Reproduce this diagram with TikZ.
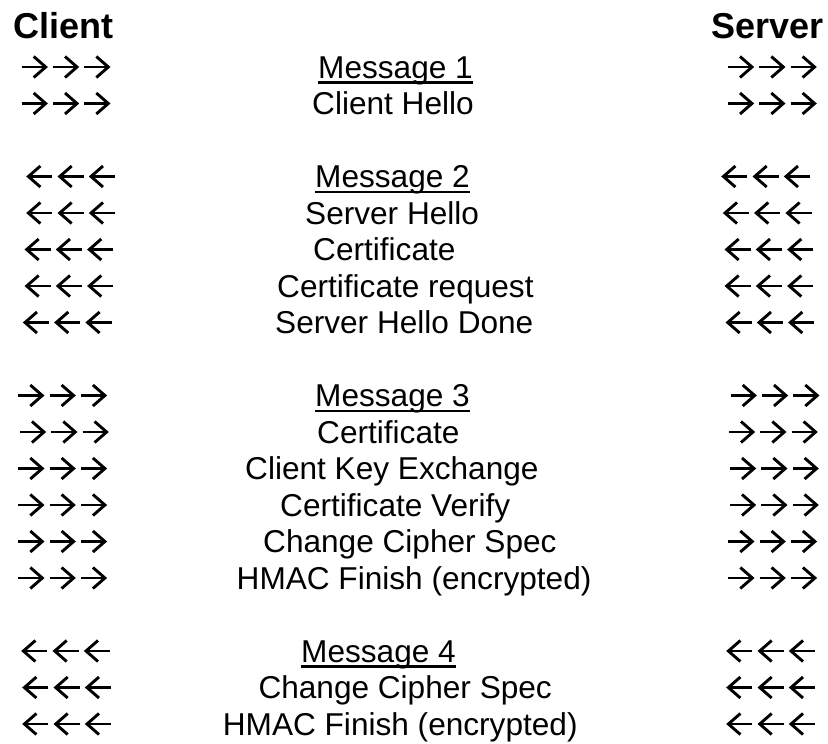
\documentclass[tikz,border=0pt]{standalone}
\usepackage{fontspec}
\setmainfont{Liberation Sans}
\begin{document}
\begin{tikzpicture}[x=1pt,y=-1pt,
  lbl/.style={anchor=base west, inner sep=0pt, font=\fontsize{31.6}{36}\selectfont},
  hdr/.style={anchor=base west, inner sep=0pt, font=\fontsize{36}{40}\selectfont\bfseries},
  uline/.style={line width=2.5pt},
  arrline/.style={line width=2.9pt, line join=miter, line cap=butt},
  onerarr/.pic={\draw[arrline] (0,-11) -- (23.5,-11);
                \draw[arrline] (12,-21.5) -- (24,-11) -- (12,-0.5);},
  onelarr/.pic={\draw[arrline] (25.7,-11) -- (2.2,-11);
                \draw[arrline] (13.7,-21.5) -- (1.7,-11) -- (13.7,-0.5);},
  rarrs/.pic={\pic at (0,0) {onerarr}; \pic at (31.3,0) {onerarr}; \pic at (62.6,0) {onerarr};},
  larrs/.pic={\pic at (0,0) {onelarr}; \pic at (31.3,0) {onelarr}; \pic at (62.6,0) {onelarr};}]
\useasboundingbox (0,0) rectangle (828,744);
% headers
\node[hdr] (client) at (13.3,38.5) {Client};
\node[hdr] (server) at (711.7,38.5) {Server};
% Message 1
\node[lbl] (m1)  at (318,78)    {Message 1};
\node[lbl] (ch)  at (312,114.5) {Client Hello};
\pic (l1)  at (21.7,78)    {rarrs};
\pic (r1)  at (728,78)     {rarrs};
\pic (l2)  at (21.7,114.5) {rarrs};
\pic (r2)  at (728,114.5)  {rarrs};
% Message 2
\node[lbl] (m2)  at (315,187.5) {Message 2};
\node[lbl] (sh)  at (305,224)   {Server Hello};
\node[lbl] (c2)  at (313,260.5) {Certificate};
\node[lbl] (cr)  at (277,297)   {Certificate request};
\node[lbl] (shd) at (275,333.5) {Server Hello Done};
\pic (l3)  at (26.7,187.5) {larrs};
\pic (l4)  at (26.7,224)   {larrs};
\pic (l5)  at (25,260.5)   {larrs};
\pic (l6)  at (25,297)     {larrs};
\pic (l7)  at (23.3,333.5) {larrs};
\pic (r3)  at (721.7,187.5){larrs};
\pic (r4)  at (723.3,224)  {larrs};
\pic (r5)  at (725,260.5)  {larrs};
\pic (r6)  at (725,297)    {larrs};
\pic (r7)  at (726,333.5)  {larrs};
% Message 3
\node[lbl] (m3)  at (315,406.5) {Message 3};
\node[lbl] (c3)  at (317,443)   {Certificate};
\node[lbl] (cke) at (245,479.5) {Client Key Exchange};
\node[lbl] (cv)  at (280,516)   {Certificate Verify};
\node[lbl] (ccs) at (263,552.5) {Change Cipher Spec};
\node[lbl] (hm)  at (236.5,589) {HMAC Finish (encrypted)};
\pic (l8)  at (18.3,406.5) {rarrs};
\pic (l9)  at (20,443)     {rarrs};
\pic (l10) at (18.3,479.5) {rarrs};
\pic (l11) at (18.3,516)   {rarrs};
\pic (l12) at (18.3,552.5) {rarrs};
\pic (l13) at (18.3,589)   {rarrs};
\pic (r8)  at (730.7,406.5){rarrs};
\pic (r9)  at (729,443)    {rarrs};
\pic (r10) at (730,479.5)  {rarrs};
\pic (r11) at (730,516)    {rarrs};
\pic (r12) at (728.3,552.5){rarrs};
\pic (r13) at (728.3,589)  {rarrs};
% Message 4
\node[lbl] (m4)   at (301,662)     {Message 4};
\node[lbl] (ccs2) at (258.3,698.5) {Change Cipher Spec};
\node[lbl] (hm2)  at (222.7,735)   {HMAC Finish (encrypted)};
\pic (l14) at (21.7,662)   {larrs};
\pic (l15) at (22.7,698.5) {larrs};
\pic (l16) at (22.7,735)   {larrs};
\pic (r14) at (726.7,662)  {larrs};
\pic (r15) at (726.7,698.5){larrs};
\pic (r16) at (726.7,735)  {larrs};
% underlines
\foreach \m in {m1,m2,m3,m4}
  \draw[uline] ([yshift=-4.5pt]\m.base west) -- ([yshift=-4.5pt]\m.base east);
\end{tikzpicture}
\end{document}
